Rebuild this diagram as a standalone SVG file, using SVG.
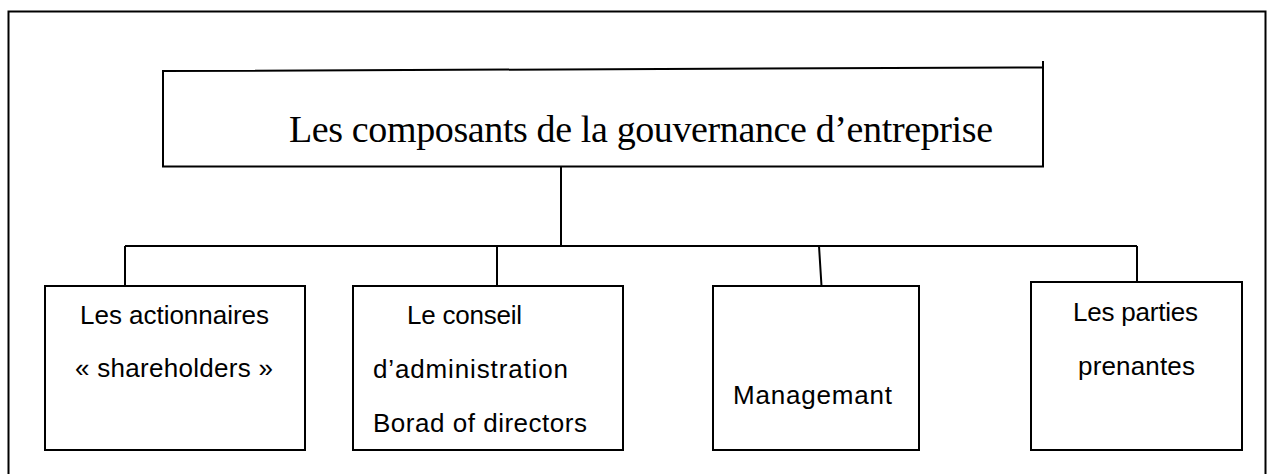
<svg xmlns="http://www.w3.org/2000/svg" width="1274" height="474" viewBox="0 0 1274 474">
<style>
.ln{fill:none;stroke:#000;stroke-width:2}
.bx{fill:#fff;stroke:#000;stroke-width:2}
.t{font-family:"Liberation Sans",Arial,sans-serif;font-size:26px;fill:#000}
.h{font-family:"Liberation Serif","Times New Roman",serif;font-size:38px;fill:#000}
</style>
<rect width="1274" height="474" fill="#fff"/>
<path class="ln" d="M8.5 480 V11.5 H1265.5 V480"/>
<g id="connectors">
<path class="ln" d="M561 167 V246"/>
<path class="ln" d="M125 246 H1137"/>
<path class="ln" d="M125 246 V286"/>
<path class="ln" d="M497 246 V286"/>
<path class="ln" d="M819 246 L821.5 286"/>
<path class="ln" d="M1137 246 V282"/>
</g>
<g id="root">
<path class="bx" d="M163 71 L1043 67.5 V166.5 H163 Z"/>
<path class="ln" d="M1043 61 V68"/>
<text class="h" x="289" y="142" textLength="704">Les composants de la gouvernance d’entreprise</text>
</g>
<g id="n1">
<rect class="bx" x="45" y="286" width="260" height="164"/>
<text class="t" x="80" y="324" textLength="189">Les actionnaires</text>
<text class="t" x="75" y="377" textLength="198">« shareholders »</text>
</g>
<g id="n2">
<rect class="bx" x="353" y="286" width="270" height="164"/>
<text class="t" x="407" y="324" textLength="115">Le conseil</text>
<text class="t" x="373" y="378" textLength="195">d’administration</text>
<text class="t" x="373" y="432" textLength="214">Borad of directors</text>
</g>
<g id="n3">
<rect class="bx" x="713" y="286" width="206" height="164"/>
<text class="t" x="733" y="404" textLength="159">Managemant</text>
</g>
<g id="n4">
<rect class="bx" x="1031" y="282" width="211" height="168"/>
<text class="t" x="1073" y="321" textLength="125">Les parties</text>
<text class="t" x="1078" y="375" textLength="117">prenantes</text>
</g>
</svg>
